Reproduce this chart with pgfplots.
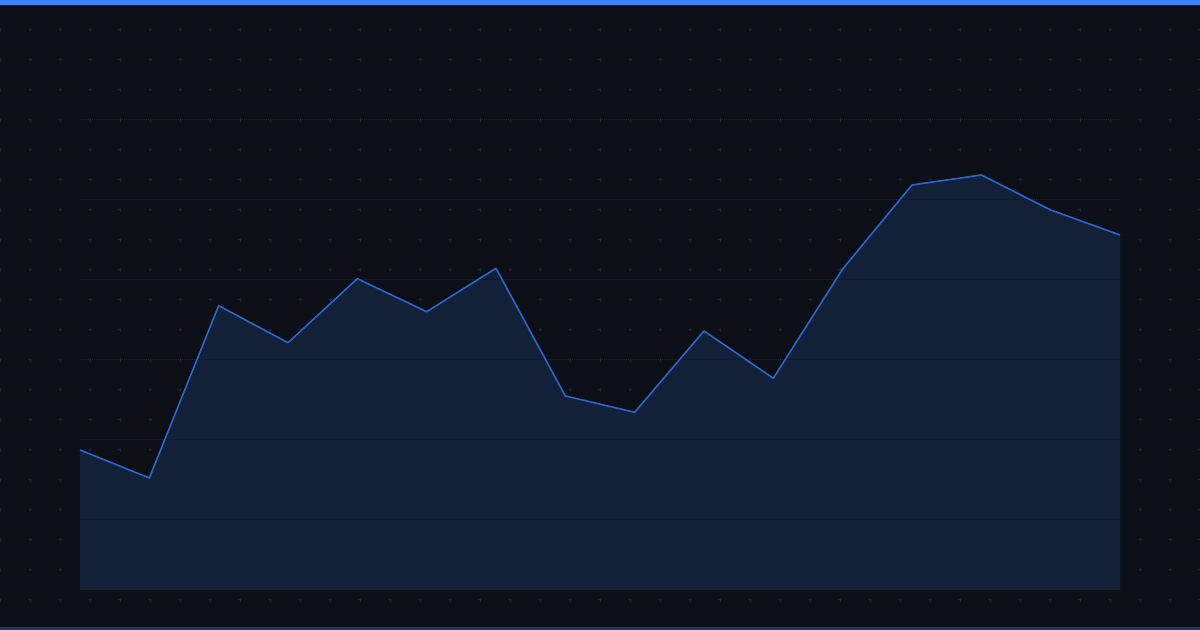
\documentclass[border=0pt]{standalone}
\usepackage{pgfplots}
\pgfplotsset{compat=1.18}

\definecolor{bgcol}{RGB}{12,15,22}
\definecolor{crosscol}{RGB}{23,37,60}
\definecolor{areafill}{RGB}{18,32,56}
\definecolor{gridblue}{RGB}{22,39,66}
\definecolor{griddark}{RGB}{12,18,30}
\definecolor{linecol}{RGB}{42,102,205}
\definecolor{topbar}{RGB}{58,130,255}
\definecolor{bottombar}{RGB}{28,56,96}

% 1px = 0.5pt, picture 600pt x 315pt
\pgfplotstableread{
x y
0 140
1 112
2 284.3
3 247.3
4 311.3
5 278.3
6 321.7
7 194
8 177.7
9 259
10 211.7
11 321
12 405
13 415
14 380
15 355
}\series

\begin{document}
\begin{tikzpicture}
% backdrop
\fill[bgcol] (0,0) rectangle (600pt,315pt);
\foreach \i in {0,...,40}{
  \foreach \j in {1,...,20}{
    \draw[crosscol, line width=0.5pt]
      (\i*15pt-0.85pt,\j*15pt) -- ++(1.7pt,0)
      (\i*15pt,\j*15pt-0.85pt) -- ++(0,1.7pt);
  }
}
\fill[topbar] (0,312.5pt) rectangle (600pt,315pt);
\fill[bottombar] (0,0) rectangle (600pt,1.5pt);

\begin{axis}[
  at={(40pt,20pt)}, anchor=south west,
  scale only axis,
  width=520pt, height=235pt,
  xmin=0, xmax=15,
  ymin=0, ymax=470,
  hide axis,
  clip=false,
]
% guides seen on the backdrop (bluish dots)
\addplot[gridblue, line width=0.5pt, dash pattern=on 0.5pt off 0.5pt,
  unbounded coords=jump, forget plot] coordinates {
  (0,70) (15,70) (0,nan)
  (0,150) (15,150) (0,nan)
  (0,230) (15,230) (0,nan)
  (0,310) (15,310) (0,nan)
  (0,390) (15,390) (0,nan)
  (0,470) (15,470)
};

% area below the line
\addplot[fill=areafill, draw=none, forget plot] table[x=x, y=y] {\series} \closedcycle;

% guides seen on the area (dark dots, in the gaps of the blue ones)
\addplot[griddark, line width=0.5pt, dash pattern=on 0.5pt off 0.5pt, dash phase=0.5pt,
  unbounded coords=jump, forget plot] coordinates {
  (0,70) (15,70) (0,nan)
  (0,150) (15,150) (0,nan)
  (0,230) (15,230) (0,nan)
  (0,310) (15,310) (0,nan)
  (0,390) (15,390) (0,nan)
  (0,470) (15,470)
};

% the series
\addplot[linecol, line width=0.8pt, line join=round] table[x=x, y=y] {\series};
\end{axis}

\pgfresetboundingbox
\useasboundingbox (0,0) rectangle (600pt,315pt);
\end{tikzpicture}
\end{document}
